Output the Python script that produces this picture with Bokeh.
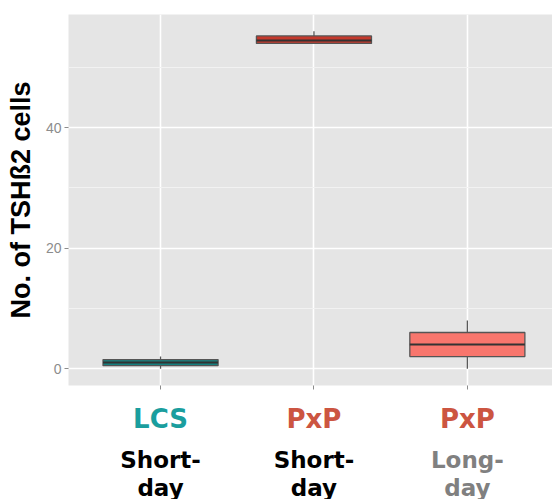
from bokeh.plotting import figure
from bokeh.layouts import column
from bokeh.models import FixedTicker, Range1d, ColumnDataSource
from bokeh.core.properties import value
from bokeh.embed import file_html
from bokeh.resources import INLINE

# ---- data ----
groups = ["LCS", "PxP", "PxP"]
photoperiod_a = ["Short-", "Short-", "Long-"]
photoperiod_b = ["day", "day", "day"]
xpos = [1, 2, 3]
lower = [0.0, 54.0, 0.0]
q1 = [0.5, 54.0, 2.0]
median = [1.0, 54.5, 4.0]
q3 = [1.5, 55.25, 6.0]
upper = [2.0, 56.0, 8.0]
fills = ["#16807f", "#c4392c", "#f8766d"]
group_colors = ["#1a9e9e", "#cc5541", "#cc5541"]
period_colors = ["#000000", "#000000", "#808080"]
y_ticks = [0, 20, 40]
y_minor = [10, 30, 50]

box_w = 0.75
W = 552
H_MAIN = 400
H_LAB = 99

xr = Range1d(0.4, 3.555)
p = figure(width=W, height=H_MAIN, output_backend="svg", toolbar_location=None,
           x_range=xr, y_range=Range1d(-2.8, 58.8),
           min_border_left=68, min_border_right=0, min_border_top=14, min_border_bottom=15)
p.background_fill_color = "#e5e5e5"
p.border_fill_color = "white"
p.outline_line_color = None

# grid
p.ygrid.ticker = FixedTicker(ticks=y_ticks, minor_ticks=y_minor)
p.yaxis.ticker = FixedTicker(ticks=y_ticks, minor_ticks=y_minor)
p.xaxis.ticker = FixedTicker(ticks=xpos)
p.xgrid.ticker = FixedTicker(ticks=xpos)
for g in (p.xgrid, p.ygrid):
    g.grid_line_color = "white"
    g.grid_line_width = 1.6
p.ygrid.minor_grid_line_color = "#f2f2f2"
p.ygrid.minor_grid_line_width = 1

# axes
for ax in (p.xaxis, p.yaxis):
    ax.axis_line_color = None
    ax.major_tick_out = 4
    ax.major_tick_in = 0
    ax.minor_tick_out = 0
    ax.minor_tick_in = 0
    ax.major_tick_line_color = "#8c8c8c"
    ax.major_tick_line_width = 1
p.xaxis.major_label_overrides = {1: "", 2: "", 3: ""}
p.xaxis.major_label_text_font_size = "1px"
p.xaxis.major_label_standoff = 0
p.yaxis.major_label_text_font = "Liberation Sans"
p.yaxis.major_label_text_font_size = "14px"
p.yaxis.major_label_text_color = "#8c8c8c"
p.yaxis.major_label_standoff = 3
p.yaxis.axis_label = "No. of TSHß2 cells"
p.yaxis.axis_label_text_font = "Liberation Sans"
p.yaxis.axis_label_text_font_style = "bold"
p.yaxis.axis_label_text_font_size = "27px"
p.yaxis.axis_label_text_color = "black"
p.yaxis.axis_label_standoff = 7

src = ColumnDataSource(dict(
    x=xpos,
    left=[x - box_w / 2 for x in xpos],
    right=[x + box_w / 2 for x in xpos],
    lower=lower, q1=q1, median=median, q3=q3, upper=upper, fill=fills,
    g=groups, pa=photoperiod_a, pb=photoperiod_b,
    gc=group_colors, pc=period_colors,
    y1=[81] * 3, y2=[40] * 3, y3=[12] * 3,
))

p.segment(x0="x", y0="q3", x1="x", y1="upper", source=src, line_color="#595959", line_width=1.3)
p.segment(x0="x", y0="lower", x1="x", y1="q1", source=src, line_color="#595959", line_width=1.3)
p.quad(left="left", right="right", bottom="q1", top="q3", source=src,
       fill_color="fill", line_color="#555555", line_width=1.3)
p.segment(x0="left", y0="median", x1="right", y1="median", source=src,
          line_color="#333333", line_width=2)

# category labels panel (shares x scale)
p2 = figure(width=W, height=H_LAB, output_backend="svg", toolbar_location=None,
            x_range=xr, y_range=Range1d(0, H_LAB), x_axis_type=None, y_axis_type=None,
            min_border_left=68, min_border_right=0, min_border_top=0, min_border_bottom=0)
p2.outline_line_color = None
p2.background_fill_color = "white"
p2.border_fill_color = "white"
p2.grid.visible = False

p2.text(x="x", y="y1", text="g", source=src, text_color="gc",
        text_font=value("DejaVu Sans"), text_font_style="bold", text_font_size="26px",
        text_align="center", text_baseline="alphabetic")
p2.text(x="x", y="y2", text="pa", source=src, text_color="pc",
        text_font=value("DejaVu Sans"), text_font_style="bold", text_font_size="23px",
        text_align="center", text_baseline="alphabetic")
p2.text(x="x", y="y3", text="pb", source=src, text_color="pc",
        text_font=value("DejaVu Sans"), text_font_style="bold", text_font_size="23px",
        text_align="center", text_baseline="alphabetic")

layout = column(p, p2, spacing=0)
open("out.html", "w").write(file_html(layout, INLINE))
